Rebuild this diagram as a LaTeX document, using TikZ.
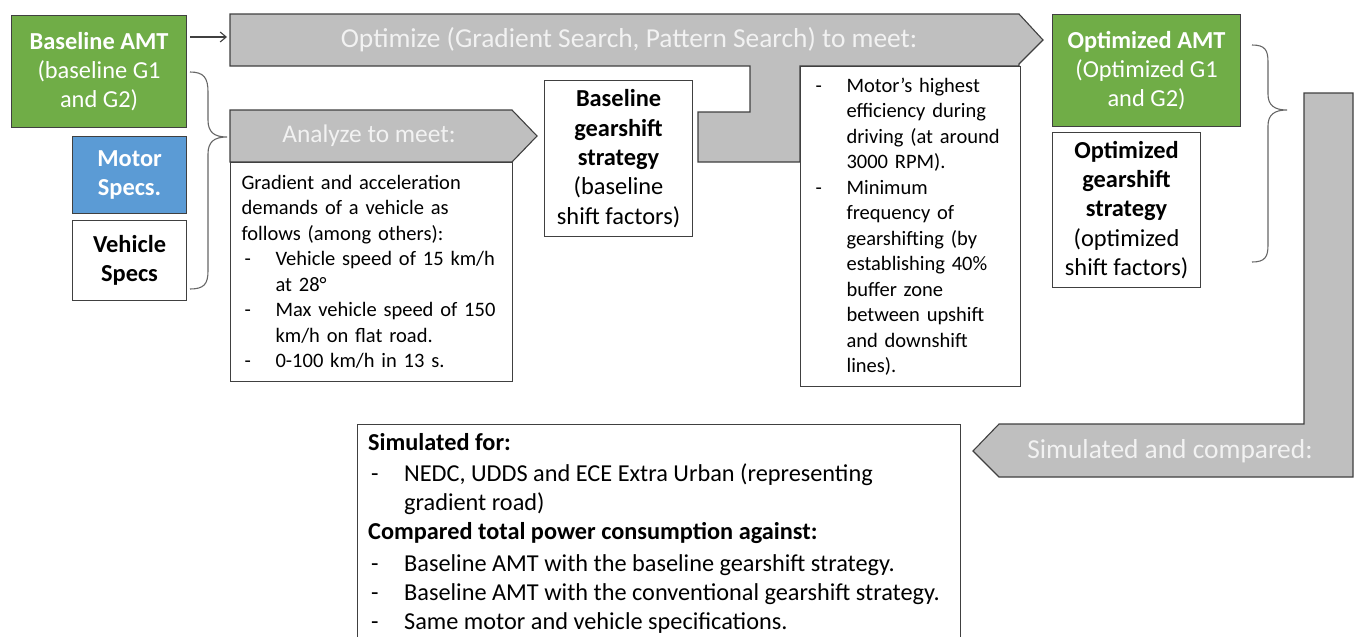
\documentclass[tikz,border=0pt]{standalone}
\usepackage{fontspec}
\setmainfont{Carlito}
\usetikzlibrary{arrows.meta}
\definecolor{ggreen}{HTML}{70AD47}
\definecolor{gblue}{HTML}{5B9BD5}
\definecolor{ggrey}{HTML}{BFBFBF}
\definecolor{gline}{HTML}{404040}
\definecolor{gtext}{HTML}{F2F2F2}
\newcommand{\dsh}[1]{\makebox[#1][l]{\hspace{3pt}-}}
\begin{document}
\begin{tikzpicture}[x=1pt,y=-1pt,
  box/.style={draw=gline, line width=1.1pt, inner sep=0pt, anchor=north west, align=center},
  greyshape/.style={fill=ggrey, draw=gline, line width=1.1pt, line join=miter},
  arrtext/.style={text=gtext, font=\fontsize{27.4}{31}\selectfont, inner sep=0pt},
  bigfont/.style={font=\fontsize{24.4}{29.3}\selectfont},
  smallfont/.style={font=\fontsize{20.5}{25.5}\selectfont},
  bracestyle/.style={draw=gline!80, line width=1.1pt},
  conn/.style={draw=gline, line width=1.1pt, -{Straight Barb[length=6pt,width=10pt]}}]
\useasboundingbox (0,0) rectangle (1358,637);
\clip (0,0) rectangle (1358,637);

% left input boxes
\node[box, bigfont, fill=ggreen, text=white, minimum width=175, minimum height=112] (bamt) at (11,15)
  {\textbf{Baseline AMT}\\(baseline G1\\and G2)};
\node[box, bigfont, fill=gblue, text=white, minimum width=114, minimum height=77] (motor) at (72,136)
  {\textbf{Motor}\\\textbf{Specs.}};
\node[box, bigfont, fill=white, minimum width=114, minimum height=80] (veh) at (72,220)
  {\textbf{Vehicle}\\\textbf{Specs}};

% left brace
\path[bracestyle] (190,72) .. controls (204,72) and (208,78) .. (208,92) -- (208,120)
  .. controls (208,132) and (214,137) .. (227,137) .. controls (214,137) and (208,142) .. (208,154)
  -- (208,271) .. controls (208,284) and (204,289) .. (190,289);

% optimize arrow (with tab)
\path[greyshape] (230,14) -- (1019,14) -- (1043,40) -- (1019,64) -- (1019,66) -- (800,66) -- (800,162)
  -- (698,162) -- (698,112) -- (750,112) -- (750,66) -- (230,66) -- cycle;
\node[arrtext] (opt) at (629,40) {Optimize (Gradient Search, Pattern Search) to meet:};
\coordinate (a1) at (190,37);
\coordinate (a2) at (227,37);
\draw[conn] (a1) -- (a2);

% analyze arrow
\path[greyshape] (230,110) -- (512,110) -- (537,136) -- (512,162) -- (230,162) -- cycle;
\node[arrtext, font=\fontsize{25.4}{30}\selectfont] (ana) at (369,136) {Analyze to meet:};
\node[box, smallfont, fill=white, minimum width=282, minimum height=219, text width=260, inner xsep=11pt, align=left] (anbox) at (230,162)
  {Gradient and acceleration\\demands of a vehicle as\\follows (among others):\\
   \dsh{34pt}Vehicle speed of 15 km/h\\\hspace*{34pt}at 28°\\
   \dsh{34pt}Max vehicle speed of 150\\\hspace*{34pt}km/h on flat road.\\
   \dsh{34pt}0-100 km/h in 13 s.};

% baseline gearshift strategy
\node[box, bigfont, fill=white, minimum width=148, minimum height=156] (bgs) at (544,80)
  {\textbf{Baseline}\\\textbf{gearshift}\\\textbf{strategy}\\(baseline\\shift factors)};

% motor efficiency box
\node[box, smallfont, fill=white, minimum width=220, minimum height=320, text width=196, inner xsep=12pt, align=left] (mot) at (800,66)
  {\dsh{34pt}Motor’s highest\\\hspace*{34pt}efficiency during\\\hspace*{34pt}driving (at around\\\hspace*{34pt}3000 RPM).\\
   \dsh{34pt}Minimum\\\hspace*{34pt}frequency of\\\hspace*{34pt}gearshifting (by\\\hspace*{34pt}establishing 40\%\\\hspace*{34pt}buffer zone\\\hspace*{34pt}between upshift\\\hspace*{34pt}and downshift\\\hspace*{34pt}lines).};

% optimized outputs
\node[box, bigfont, fill=ggreen, text=white, minimum width=188, minimum height=112] (oamt) at (1052,14)
  {\textbf{Optimized AMT}\\(Optimized G1\\and G2)};
\node[box, bigfont, fill=white, minimum width=148, minimum height=155] (ogs) at (1052,132)
  {\textbf{Optimized}\\\textbf{gearshift}\\\textbf{strategy}\\(optimized\\shift factors)};

% right brace
\path[bracestyle] (1252,45) .. controls (1265,45) and (1268,50) .. (1268,62) -- (1268,94)
  .. controls (1268,105) and (1274,110) .. (1287,110) .. controls (1274,110) and (1268,115) .. (1268,126)
  -- (1268,245) .. controls (1268,257) and (1265,262) .. (1252,262);

% bent arrow right
\path[greyshape] (1304,93) -- (1353,93) -- (1353,477) -- (999,477) -- (973,451) -- (999,424) -- (1304,424) -- cycle;
\node[arrtext] (sim) at (1170,451) {Simulated and compared:};

% bottom box
\node[box, fill=white, minimum width=603, minimum height=260] (simbox) at (357,424) {};
\node[anchor=north west, align=left, inner sep=0pt, font=\fontsize{24.3}{29}\selectfont] (simtxt) at (368,433)
  {\textbf{Simulated for:}\\[2pt]
   \dsh{36pt}NEDC, UDDS and ECE Extra Urban (representing\\\hspace*{36pt}gradient road)\\
   \textbf{Compared total power consumption against:}\\[3pt]
   \dsh{36pt}Baseline AMT with the baseline gearshift strategy.\\
   \dsh{36pt}Baseline AMT with the conventional gearshift strategy.\\
   \dsh{36pt}Same motor and vehicle specifications.};
\end{tikzpicture}
\end{document}
